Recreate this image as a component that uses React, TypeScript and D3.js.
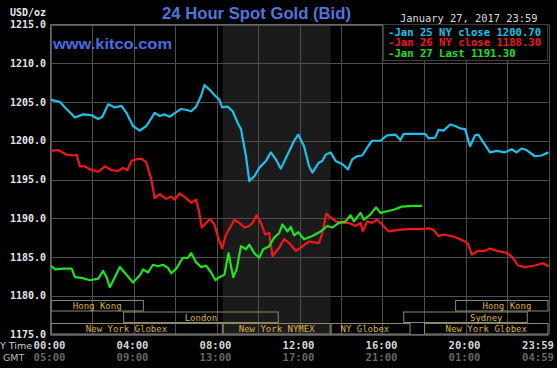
import React, { useEffect, useRef } from 'react';
import * as d3 from 'd3';

type Pt = [number, number]; // [hour NY time, price]

const yTicks = [1215, 1210, 1205, 1200, 1195, 1190, 1185, 1180, 1175];
const timeTicks = [0, 4, 8, 12, 16, 20, 24];
const nyTimeLabels = ['00:00', '04:00', '08:00', '12:00', '16:00', '20:00', '23:59'];
const gmtLabels = ['05:00', '09:00', '13:00', '17:00', '21:00', '01:00', '04:59'];
const gridHours = [0, 2, 4, 6, 8, 10, 12, 14, 16, 18, 20, 22, 24];

const legendItems = [
  { text: '-Jan 25 NY close 1200.70', color: '#1fc0ea' },
  { text: '-Jan 26 NY close 1188.30', color: '#f01818' },
  { text: '-Jan 27 Last 1191.30', color: '#22e022' },
];

// NYMEX pit hours, shaded
const nymexShade = [8.3, 13.5];

const sessions = [
  { name: 'Hong Kong', row: 0, start: 0, end: 4.5 },
  { name: 'Hong Kong', row: 0, start: 19.5, end: 24, label: 22 },
  { name: 'London', row: 1, start: 3.5, end: 11 },
  { name: 'Sydney', row: 1, start: 17, end: 23, label: 21 },
  { name: 'New York Globex', row: 2, start: 0, end: 8.3, label: 3.66 },
  { name: 'New York NYMEX', row: 2, start: 8.3, end: 13.5 },
  { name: 'NY Globex', row: 2, start: 13.5, end: 17.35, label: 15.15 },
  { name: 'New York Globex', row: 2, start: 18, end: 24 },
];

const jan25: Pt[] = [
  [0, 1205.3], [0.46, 1205.0], [0.7, 1204.3], [1.18, 1203.0], [1.57, 1203.4], [1.98, 1203.3],
  [2.3, 1202.8], [2.5, 1203.1], [2.78, 1204.7], [3.1, 1204.3], [3.42, 1204.5], [3.66, 1203.6],
  [3.98, 1201.9], [4.14, 1201.6], [4.3, 1201.3], [4.62, 1201.9], [5.02, 1203.6], [5.26, 1203.2],
  [5.5, 1203.4], [5.74, 1203.1], [6.06, 1203.7], [6.3, 1204.1], [6.54, 1204.0], [6.78, 1203.8],
  [7.02, 1204.4], [7.26, 1205.8], [7.42, 1207.2], [7.66, 1206.6], [7.9, 1205.9], [8.14, 1205.3],
  [8.27, 1204.3], [8.54, 1204.4], [8.78, 1203.8], [9.02, 1202.3], [9.18, 1201.5], [9.42, 1198.0],
  [9.58, 1194.8], [9.82, 1195.4], [10.06, 1196.5], [10.38, 1197.4], [10.62, 1198.5], [10.86, 1197.6],
  [11.1, 1196.4], [11.42, 1198.2], [11.74, 1200.0], [11.94, 1200.8], [12.22, 1199.3], [12.46, 1196.7],
  [12.62, 1195.9], [12.94, 1197.2], [13.1, 1197.4], [13.26, 1198.2], [13.5, 1198.5], [13.74, 1197.4],
  [14.06, 1197.0], [14.34, 1196.3], [14.54, 1197.6], [14.78, 1198.0], [15.02, 1198.1], [15.26, 1199.1],
  [15.5, 1200.0], [15.9, 1200.0], [16.22, 1200.7], [16.62, 1200.8], [16.86, 1200.1], [17.02, 1200.9],
  [17.58, 1200.9], [18.06, 1200.9], [18.22, 1200.3], [18.54, 1200.4], [18.7, 1201.4], [18.94, 1201.3],
  [19.26, 1202.1], [19.5, 1201.9], [19.74, 1201.6], [19.98, 1201.5], [20.22, 1199.3], [20.46, 1200.7],
  [20.62, 1200.8], [20.86, 1199.8], [21.18, 1198.5], [21.5, 1198.7], [21.9, 1198.5], [22.22, 1198.9],
  [22.46, 1198.5], [22.7, 1199.0], [22.94, 1198.8], [23.34, 1198.0], [23.66, 1198.1], [24, 1198.5],
];

const jan26: Pt[] = [
  [0, 1198.7], [0.37, 1198.8], [0.78, 1198.2], [1.1, 1198.1], [1.26, 1198.2], [1.42, 1196.7],
  [1.66, 1196.7], [1.9, 1196.3], [2.3, 1196.0], [2.62, 1196.7], [2.94, 1196.2], [3.26, 1196.1],
  [3.5, 1196.5], [3.7, 1196.2], [3.9, 1197.4], [4.14, 1197.6], [4.38, 1197.7], [4.62, 1197.2],
  [4.86, 1195.0], [5.02, 1192.6], [5.26, 1193.1], [5.58, 1192.5], [5.82, 1192.8], [5.98, 1192.4],
  [6.22, 1193.2], [6.54, 1192.6], [6.78, 1192.0], [7.02, 1192.4], [7.14, 1191.1], [7.29, 1188.8],
  [7.5, 1189.4], [7.69, 1189.9], [7.9, 1189.2], [8.06, 1187.7], [8.27, 1186.1], [8.46, 1187.9],
  [8.7, 1189.0], [8.86, 1189.8], [9.1, 1189.4], [9.34, 1188.8], [9.58, 1189.0], [9.74, 1189.4],
  [9.93, 1190.4], [10.14, 1189.4], [10.35, 1187.9], [10.54, 1188.1], [10.7, 1185.1], [11.02, 1186.2],
  [11.26, 1187.3], [11.5, 1186.8], [11.82, 1185.8], [12.06, 1186.2], [12.46, 1187.0], [12.94, 1186.8],
  [13.1, 1188.1], [13.29, 1190.6], [13.5, 1190.1], [13.74, 1189.6], [14.06, 1189.4], [14.38, 1189.4],
  [14.7, 1189.0], [14.94, 1189.4], [15.05, 1188.3], [15.26, 1189.6], [15.5, 1189.4], [15.74, 1189.8],
  [15.98, 1189.2], [16.3, 1188.3], [16.78, 1188.5], [17.26, 1188.6], [17.9, 1188.6], [18.22, 1188.7],
  [18.46, 1188.5], [18.7, 1187.7], [18.94, 1187.9], [19.34, 1187.7], [19.66, 1187.4], [19.98, 1187.0],
  [20.14, 1186.6], [20.3, 1185.3], [20.62, 1185.8], [20.94, 1185.8], [21.18, 1186.1], [21.5, 1185.8],
  [21.9, 1185.6], [22.22, 1185.1], [22.54, 1183.9], [22.86, 1183.7], [23.34, 1183.9], [23.74, 1184.2],
  [24, 1183.8],
];

const jan27: Pt[] = [
  [0, 1183.9], [0.22, 1183.4], [0.62, 1183.5], [1.02, 1183.5], [1.18, 1182.4], [1.5, 1182.3],
  [1.9, 1182.0], [2.3, 1182.2], [2.54, 1183.2], [2.7, 1182.4], [2.86, 1181.1], [3.1, 1182.4],
  [3.34, 1183.7], [3.66, 1182.7], [3.98, 1181.7], [4.3, 1182.6], [4.46, 1183.4], [4.7, 1183.0],
  [4.94, 1184.0], [5.18, 1183.8], [5.42, 1184.0], [5.66, 1183.6], [5.82, 1182.9], [6.06, 1183.5],
  [6.38, 1184.9], [6.62, 1184.9], [6.78, 1185.5], [7.02, 1184.3], [7.26, 1183.7], [7.5, 1183.9],
  [7.74, 1183.0], [7.95, 1182.0], [8.14, 1182.4], [8.38, 1182.7], [8.58, 1185.5], [8.7, 1183.8],
  [8.81, 1182.4], [8.97, 1183.4], [9.18, 1186.4], [9.42, 1186.0], [9.58, 1186.6], [9.82, 1185.5],
  [10.06, 1184.9], [10.25, 1186.0], [10.54, 1186.4], [10.78, 1187.5], [11.02, 1188.1], [11.18, 1189.2],
  [11.42, 1188.3], [11.58, 1188.9], [11.74, 1187.8], [11.94, 1188.2], [12.22, 1187.3], [12.62, 1187.7],
  [13.02, 1188.3], [13.34, 1189.0], [13.58, 1188.8], [13.9, 1189.4], [14.22, 1189.6], [14.46, 1190.4],
  [14.62, 1189.6], [14.94, 1190.7], [15.1, 1189.8], [15.42, 1190.5], [15.69, 1191.4], [15.9, 1190.7],
  [16.22, 1190.9], [16.54, 1191.1], [16.94, 1191.5], [17.42, 1191.6], [17.9, 1191.6],
];

const series = [
  { data: jan25, color: '#1fc0ea' },
  { data: jan26, color: '#f01818' },
  { data: jan27, color: '#22e022' },
];

const MONO = '"DejaVu Sans Mono", monospace';

export default function App() {
  const svgRef = useRef<SVGSVGElement>(null);

  useEffect(() => {
    if (!svgRef.current) return;
    document.body.style.margin = '0';
    const svg = d3.select(svgRef.current);
    svg.selectAll('*').remove();

    const width = 557;
    const height = 368;
    const left = 50.5, right = 548.5, top = 24.5, bottom = 334.5;

    const x = d3.scaleLinear().domain([0, 24]).range([left, right]);
    const y = d3.scaleLinear().domain([1175, 1215]).range([bottom, top]);

    svg.append('rect').attr('width', width).attr('height', height).attr('fill', '#000');

    // NYMEX shade
    svg.append('rect')
      .attr('x', x(nymexShade[0]))
      .attr('y', top)
      .attr('width', x(nymexShade[1]) - x(nymexShade[0]))
      .attr('height', bottom - top)
      .attr('fill', '#1b1b1b');

    // Grid
    const grid = svg.append('g').attr('stroke', '#4e4e4e').attr('stroke-width', 1);
    grid.selectAll('.vg')
      .data(gridHours)
      .enter()
      .append('line')
      .attr('x1', d => Math.round(x(d)) + 0.5)
      .attr('x2', d => Math.round(x(d)) + 0.5)
      .attr('y1', top)
      .attr('y2', bottom);
    grid.selectAll('.hg')
      .data(yTicks)
      .enter()
      .append('line')
      .attr('x1', left)
      .attr('x2', right)
      .attr('y1', d => Math.round(y(d)) + 0.5)
      .attr('y2', d => Math.round(y(d)) + 0.5);

    // Session boxes
    const rowH = 11.5;
    const rowTop = (r: number) => bottom - (3 - r) * rowH;
    const sg = svg.append('g');
    sg.selectAll('rect')
      .data(sessions)
      .enter()
      .append('rect')
      .attr('x', d => x(d.start) + 0.5)
      .attr('y', d => rowTop(d.row) + 0.5)
      .attr('width', d => x(d.end) - x(d.start) - 1)
      .attr('height', rowH - 1)
      .attr('fill', 'none')
      .attr('stroke', '#8c8868')
      .attr('stroke-width', 1);
    sg.selectAll('text')
      .data(sessions)
      .enter()
      .append('text')
      .attr('x', d => x(d.label ?? (d.start + d.end) / 2))
      .attr('y', d => rowTop(d.row) + rowH / 2 + 0.5)
      .attr('text-anchor', 'middle')
      .attr('dominant-baseline', 'central')
      .attr('font-family', MONO)
      .attr('font-size', 9)
      .attr('fill', '#dcb23c')
      .text(d => d.name);

    // Lines
    const line = d3.line<Pt>()
      .x(d => x(d[0]))
      .y(d => y(d[1]))
      .curve(d3.curveLinear);
    series.forEach(s => {
      svg.append('path')
        .datum(s.data)
        .attr('fill', 'none')
        .attr('stroke', s.color)
        .attr('stroke-width', 2.2)
        .attr('stroke-linejoin', 'round')
        .attr('d', line);
    });

    // Y axis labels
    svg.append('g')
      .selectAll('text')
      .data(yTicks)
      .enter()
      .append('text')
      .attr('x', 46)
      .attr('y', d => y(d))
      .attr('text-anchor', 'end')
      .attr('dominant-baseline', 'central')
      .attr('font-family', MONO)
      .attr('font-weight', 'bold')
      .attr('font-size', 10)
      .attr('fill', '#e6e6e6')
      .text(d => d3.format('.1f')(d));

    svg.append('text')
      .attr('x', 10)
      .attr('y', 12)
      .attr('dominant-baseline', 'central')
      .attr('font-family', MONO)
      .attr('font-weight', 'bold')
      .attr('font-size', 10)
      .attr('fill', '#e6e6e6')
      .text('USD/oz');

    // Time axis labels
    const tg = svg.append('g')
      .attr('font-family', MONO)
      .attr('font-weight', 'bold')
      .attr('font-size', 10.6);
    const anchorFor = (i: number) => (i === timeTicks.length - 1 ? 'end' : 'middle');
    const xFor = (d: number, i: number) => (i === timeTicks.length - 1 ? x(d) + 5.5 : x(d) - 1);
    tg.selectAll('.ny')
      .data(timeTicks)
      .enter()
      .append('text')
      .attr('x', xFor)
      .attr('y', 345)
      .attr('text-anchor', (_, i) => anchorFor(i))
      .attr('dominant-baseline', 'central')
      .attr('fill', '#d6d6d6')
      .text((_, i) => nyTimeLabels[i]);
    tg.selectAll('.gmt')
      .data(timeTicks)
      .enter()
      .append('text')
      .attr('x', xFor)
      .attr('y', 357)
      .attr('text-anchor', (_, i) => anchorFor(i))
      .attr('dominant-baseline', 'central')
      .attr('fill', '#666')
      .text((_, i) => gmtLabels[i]);

    svg.append('text')
      .attr('x', 32)
      .attr('y', 345)
      .attr('text-anchor', 'end')
      .attr('dominant-baseline', 'central')
      .attr('font-family', '"DejaVu Sans", sans-serif')
      .attr('font-size', 9.5)
      .attr('fill', '#cfcfcf')
      .text('NY Time');
    svg.append('text')
      .attr('x', 3)
      .attr('y', 357)
      .attr('dominant-baseline', 'central')
      .attr('font-family', '"DejaVu Sans", sans-serif')
      .attr('font-size', 9.5)
      .attr('fill', '#bdbdbd')
      .text('GMT');

    // Frame
    svg.append('path')
      .attr('d', `M${left},${top}H${right}M${left},${top}V${bottom}H${right}`)
      .attr('fill', 'none')
      .attr('stroke', '#6a6a6a');

    // Titles
    svg.append('text')
      .attr('x', 162)
      .attr('y', 13.5)
      .attr('dominant-baseline', 'central')
      .attr('font-family', '"Liberation Sans", Arial, sans-serif')
      .attr('font-weight', 'bold')
      .attr('font-size', 17)
      .attr('textLength', 189)
      .attr('lengthAdjust', 'spacingAndGlyphs')
      .attr('fill', '#5274de')
      .text('24 Hour Spot Gold (Bid)');
    svg.append('text')
      .attr('x', 53)
      .attr('y', 43.5)
      .attr('dominant-baseline', 'central')
      .attr('font-family', '"Liberation Sans", Arial, sans-serif')
      .attr('font-weight', 'bold')
      .attr('font-size', 15.5)
      .attr('textLength', 119)
      .attr('lengthAdjust', 'spacingAndGlyphs')
      .attr('fill', '#4b6be0')
      .text('www.kitco.com');

    // Legend
    svg.append('text')
      .attr('x', 400)
      .attr('y', 17.5)
      .attr('dominant-baseline', 'central')
      .attr('font-family', MONO)
      .attr('font-size', 10.4)
      .attr('fill', '#dcdcdc')
      .text('January 27, 2017 23:59');
    svg.append('rect')
      .attr('x', 383.5)
      .attr('y', 24.5)
      .attr('width', 164)
      .attr('height', 36)
      .attr('fill', '#000')
      .attr('stroke', '#3c3c3c');
    svg.append('g')
      .selectAll('text')
      .data(legendItems)
      .enter()
      .append('text')
      .attr('x', 388)
      .attr('y', (_, i) => 31.7 + i * 10.5)
      .attr('dominant-baseline', 'central')
      .attr('font-family', MONO)
      .attr('font-weight', 'bold')
      .attr('font-size', 10.6)
      .attr('fill', d => d.color)
      .text(d => d.text);
  }, []);

  return (
    <svg
      ref={svgRef}
      width={557}
      height={368}
      style={{ position: 'absolute', left: 0, top: 0, display: 'block' }}
    />
  );
}
